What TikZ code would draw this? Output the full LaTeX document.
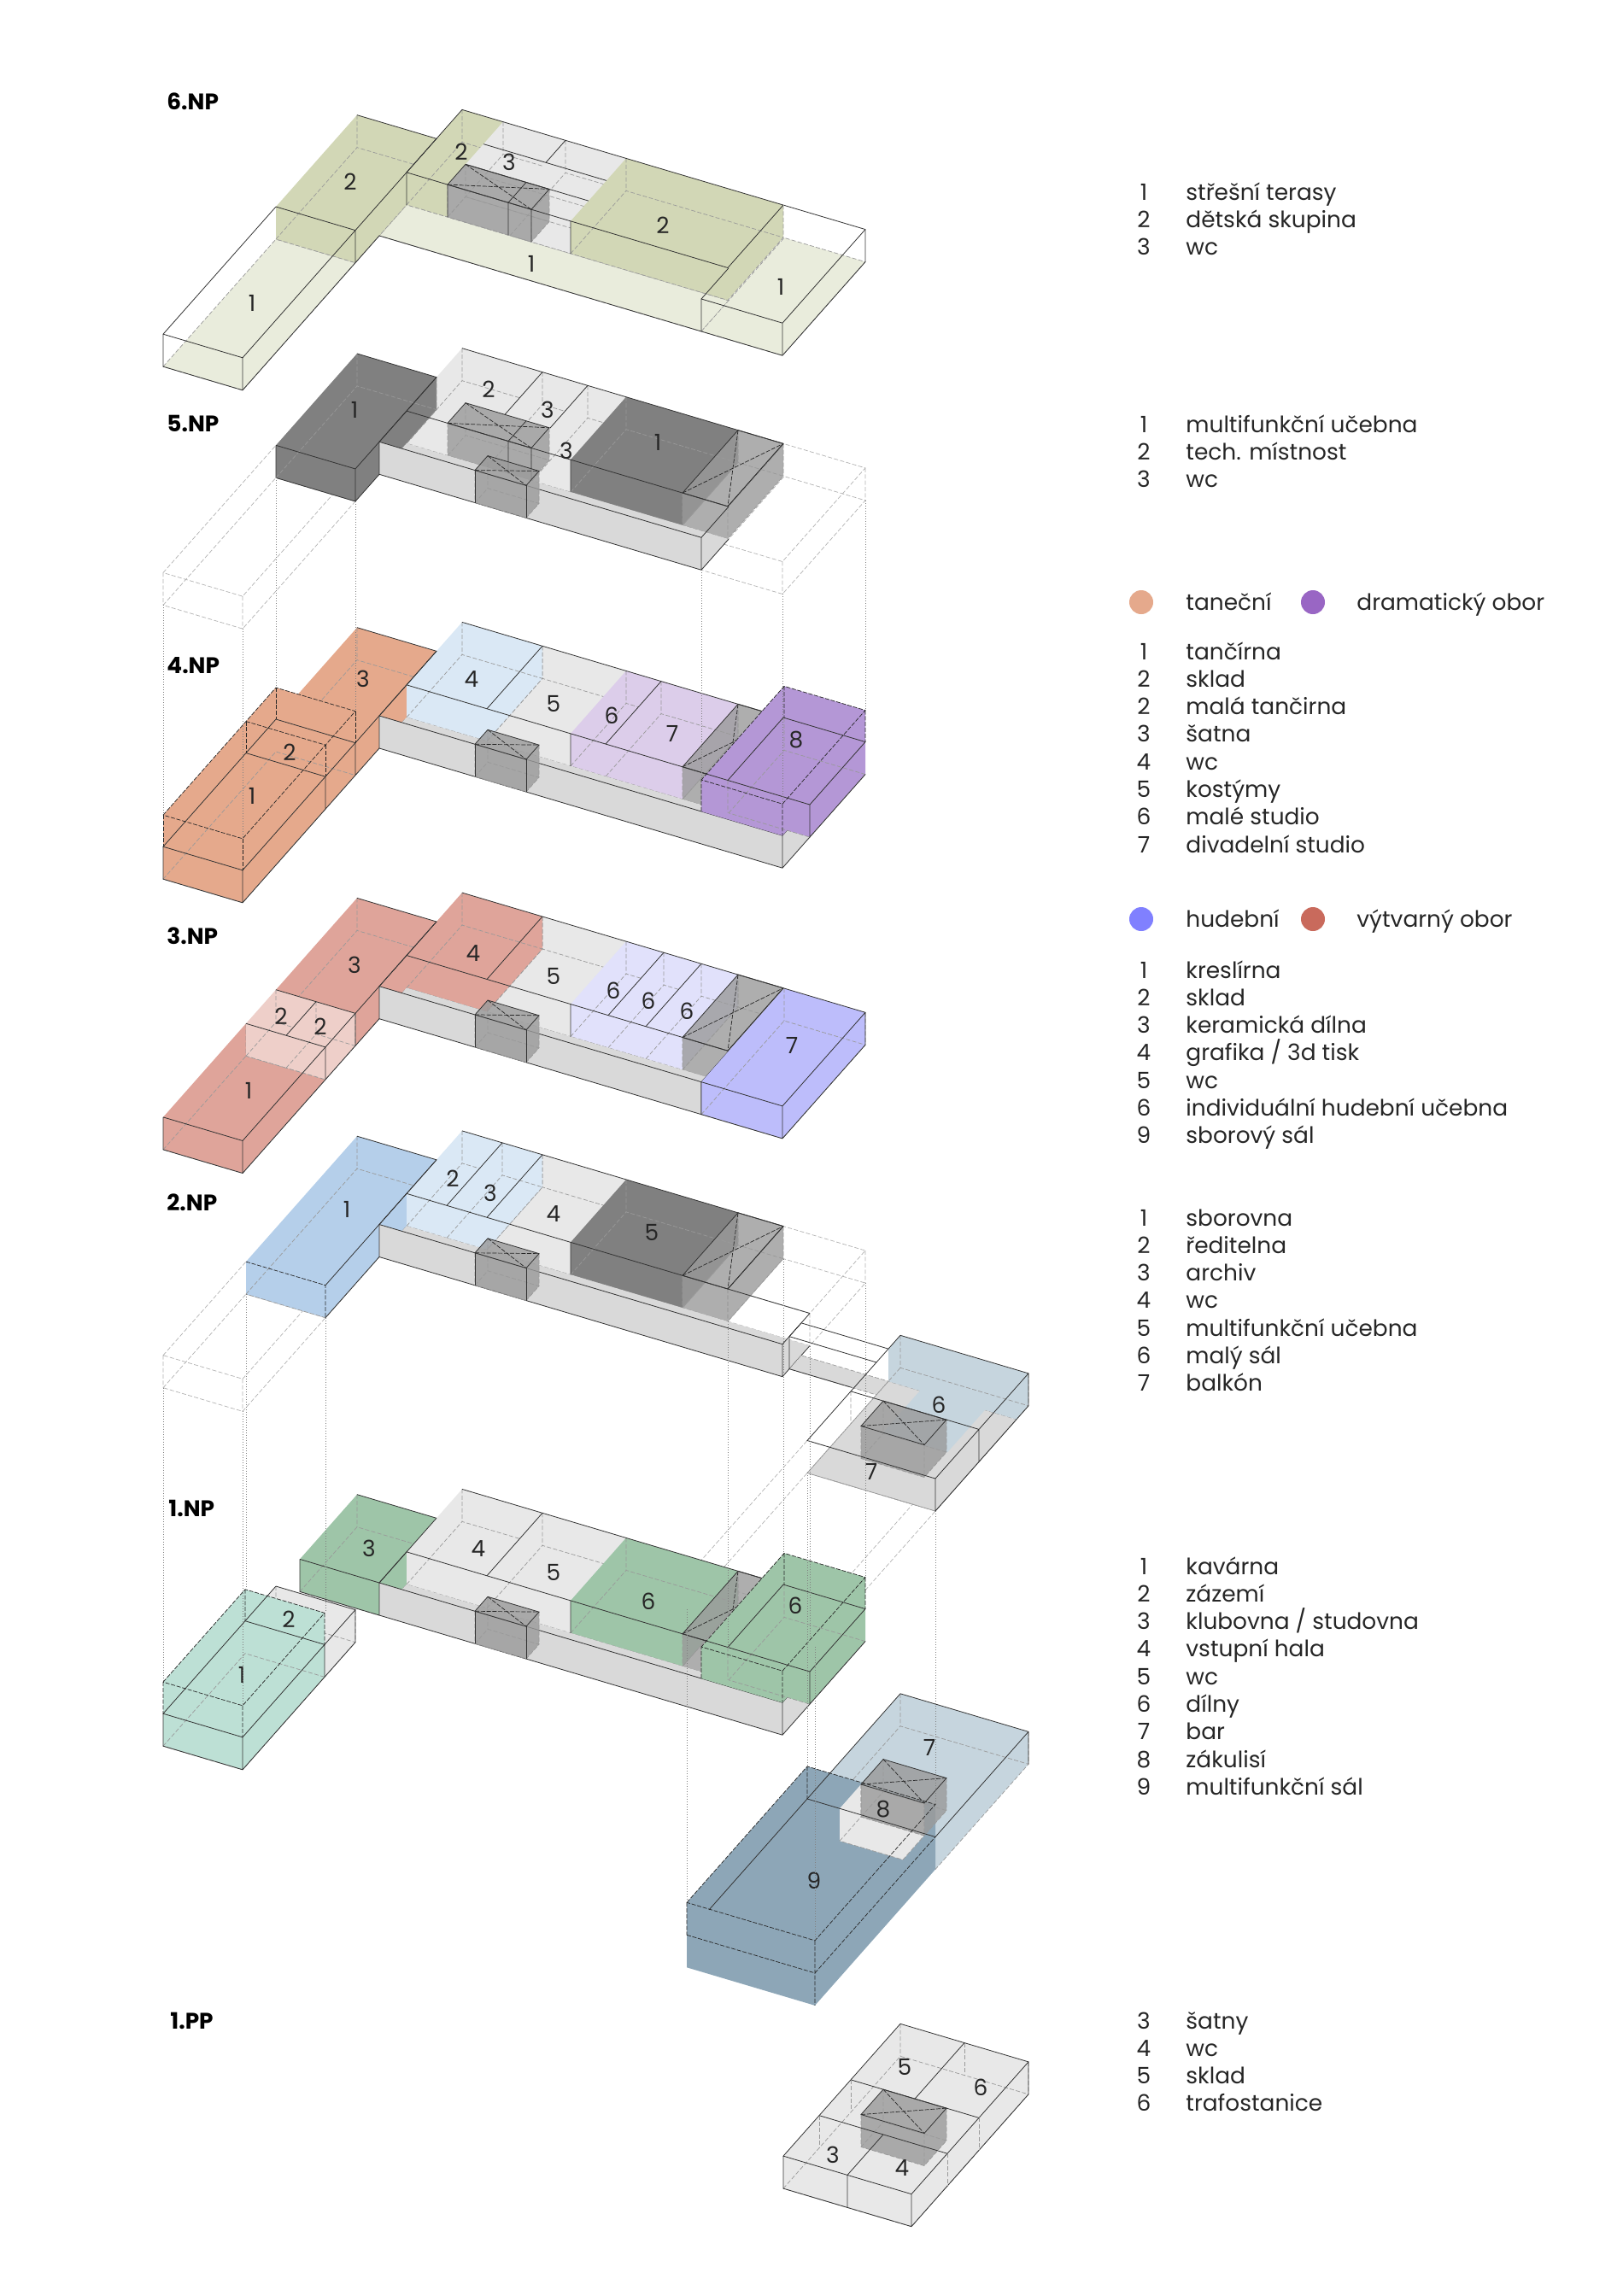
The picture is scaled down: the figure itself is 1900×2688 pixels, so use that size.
\documentclass[tikz,border=0pt]{standalone}
\usepackage{fontspec}
\setmainfont{Poppins}
\definecolor{olivepale}{HTML}{E9ECDC}
\definecolor{olive}{HTML}{D2D7B6}
\definecolor{lightroom}{HTML}{E8E8E8}
\definecolor{corridor}{HTML}{D9D9D9}
\definecolor{coregray}{HTML}{9A9A9A}
\definecolor{darkroom}{HTML}{808080}
\definecolor{orangeroom}{HTML}{E5A98C}
\definecolor{icy}{HTML}{DAE8F5}
\definecolor{lilac}{HTML}{DCCDEA}
\definecolor{purpleroom}{HTML}{B497D6}
\definecolor{pinkroom}{HTML}{DFA49A}
\definecolor{palepink}{HTML}{EECFC9}
\definecolor{lavender}{HTML}{E1E1FB}
\definecolor{violetroom}{HTML}{BDBDFB}
\definecolor{blueroom}{HTML}{B5CFEA}
\definecolor{greenroom}{HTML}{9EC5A8}
\definecolor{tealroom}{HTML}{BDE0D5}
\definecolor{steel}{HTML}{8DA6B7}
\definecolor{palesteel}{HTML}{C6D5DE}
\definecolor{dotorange}{HTML}{E5A98C}
\definecolor{dotpurple}{HTML}{9966C4}
\definecolor{dotblue}{HTML}{8080FF}
\definecolor{dotred}{HTML}{C96A5C}
\tikzset{
  plan/.style={x={(.5pt,-.1485pt)},y={(.5pt,.565pt)},z={(0pt,-.5pt)},shift={(222pt,{-#1*.5pt})}},
  lid/.style={draw=black!80,line width=.4pt},
  hid/.style={draw=black!40,line width=.35pt,dash pattern=on 2.5pt off 1.2pt},
  updash/.style={draw=black!85,line width=.35pt,dash pattern=on 2.5pt off .9pt},
  ghost/.style={draw=black!30,line width=.35pt,dash pattern=on 2.5pt off 1.2pt},
  drop/.style={draw=black!50,line width=.3pt,dash pattern=on .5pt off 1pt},
  num/.style={font=\fontsize{13.2}{13}\selectfont,text=black!85,inner sep=0pt},
  title/.style={font=\fontsize{13.2}{13}\selectfont\bfseries,anchor=west,inner sep=0pt},
  legnum/.style={font=\fontsize{13.2}{13}\selectfont,text=black!85,anchor=base,inner sep=0pt},
  legtxt/.style={font=\fontsize{13.2}{13}\selectfont,text=black!85,anchor=base west,inner sep=0pt},
  legdot/.style={circle,minimum size=14pt,inner sep=0pt}
}
% a room as a see-through box
\newcommand{\roombox}[5]{%
  \fill[#5] (#1,#3,0) -- (#1,#4,0) -- (#2,#4,0) -- (#2,#4,38) -- (#2,#3,38) -- (#1,#3,38) -- cycle;
  \draw[hid] (#1,#3,38) -- (#1,#4,38) -- (#2,#4,38) -- (#2,#3,38) -- cycle (#1,#4,0) -- (#1,#4,38) (#2,#4,0) -- (#2,#4,38);}
% double height room
\newcommand{\roomtall}[5]{%
  \fill[#5] (#1,#3,-37) -- (#1,#4,-37) -- (#2,#4,-37) -- (#2,#4,38) -- (#2,#3,38) -- (#1,#3,38) -- cycle;
  \draw[hid] (#1,#3,38) -- (#1,#4,38) -- (#2,#4,38) -- (#2,#3,38) -- cycle;}
% floor only
\newcommand{\roomflat}[5]{%
  \fill[#5] (#1,#3,38) -- (#1,#4,38) -- (#2,#4,38) -- (#2,#3,38) -- cycle;
  \draw[hid] (#1,#3,38) -- (#1,#4,38) -- (#2,#4,38) -- (#2,#3,38) -- cycle;}
% stairs, lifts
\newcommand{\roomcore}[4]{%
  \fill[coregray,fill opacity=.8] (#1,#3,0) -- (#1,#4,0) -- (#2,#4,0) -- (#2,#4,38) -- (#2,#3,38) -- (#1,#3,38) -- cycle;
  \draw[hid] (#1,#3,38) -- (#1,#4,38) -- (#2,#4,38) -- (#2,#3,38) -- cycle (#1,#4,0) -- (#1,#4,38) (#2,#4,0) -- (#2,#4,38) (#1,#3,0) -- (#1,#3,38) (#2,#3,0) -- (#2,#3,38);
  \draw[updash] (#1,#3,0) -- (#2,#4,0) (#1,#4,0) -- (#2,#3,0);
  \draw[lid] (#1,#3,0) -- (#1,#4,0) -- (#2,#4,0) -- (#2,#3,0) -- cycle;}
\newcommand{\corridorbar}[1]{%
  \fill[corridor] (0,0,38) -- (0,32,38) -- (#1,32,38) -- (#1,0,38) -- cycle;
  \fill[corridor] (0,0,0) -- (#1,0,0) -- (#1,0,38) -- (0,0,38) -- cycle;
  \draw[lid] (0,32,0) -- (0,0,0) -- (#1,0,0) -- (#1,32,0) (0,0,0) -- (0,0,38) -- (#1,0,38) -- (#1,32,38) (#1,0,0) -- (#1,0,38);}
\newcommand{\barlid}{%
  \draw[lid] (0,32,0) -- (376,32,0) (0,32,0) -- (0,67,0) (0,97,0) -- (376,97,0);}
\newcommand{\liftcore}{%
  \roomcore{112}{172}{0}{15}
  \draw[lid] (112,0,0) -- (112,0,38) (172,0,0) -- (172,0,38);}
% the tall end of the bar
\newcommand{\studiotall}[1]{%
  \fill[#1] (377,32,0) -- (377,97,0) -- (472,97,0) -- (472,97,38) -- (472,32,38) -- (377,32,38) -- cycle;
  \fill[#1] (377,0,0) -- (377,0,-37) -- (377,97,-37) -- (472,97,-37) -- (472,97,0) -- (472,0,0) -- cycle;
  \draw[hid] (377,32,38) -- (377,97,38) -- (472,97,38) -- (472,32,38) -- cycle (376,32,0) -- (376,32,38) (377,97,0) -- (377,97,38);
  \draw[lid] (347,32,0) -- (472,32,0) -- (472,32,38) -- (472,97,38) (472,32,0) -- (472,97,0) -- (376,97,0) -- (376,32,0);
  \draw[updash] (377,0,0) -- (377,0,-37) -- (472,0,-37) -- (472,0,0) (472,0,-37) -- (472,97,-37) -- (377,97,-37) -- (377,0,-37) (472,97,-37) -- (472,97,0) (377,97,-37) -- (377,97,0);}
% ghost of a box from another floor
\newcommand{\ghostbox}[4]{%
  \draw[ghost] (#1,#3,0) -- (#1,#4,0) -- (#2,#4,0) -- (#2,#3,0) -- cycle (#1,#3,38) -- (#1,#4,38) -- (#2,#4,38) -- (#2,#3,38) -- cycle (#1,#3,0) -- (#1,#3,38) (#2,#3,0) -- (#2,#3,38) (#2,#4,0) -- (#2,#4,38);}
\newcommand{\legendlist}[3]{%
  \foreach \nr/\lab [count=\i from 0] in {#3} {
    \node[legnum] (#1n\i) at (1339,{#2+9+\i*32.3}) {\nr};
    \node[legtxt] (#1t\i) at (1388,{#2+9+\i*32.3}) {\lab};
  }}
\begin{document}
\begin{tikzpicture}[x=.5pt,y=-.5pt]
  \useasboundingbox (0,0) rectangle (1900,2688);
  \fill[white] (0,0) rectangle (1900,2688);

  % 6.NP
  \begin{scope}[plan=238]
    \roomflat{-93}{0}{-160}{-28}{olivepale}
    \roomflat{0}{377}{0}{32}{olivepale}
    \roomflat{377}{472}{0}{97}{olivepale}
    \roombox{-93}{0}{-28}{67}{olive}
    \roombox{0}{48}{32}{97}{olive}
    \roombox{48}{121}{32}{97}{lightroom}
    \roombox{121}{192}{32}{97}{lightroom}
    \draw[hid] (48,74,38) -- (192,74,38) (48,53,38) -- (192,53,38);
    \roombox{192}{376}{32}{97}{olive}
    \roomcore{48}{146}{32}{53}
    \draw[lid] (-93,-28,0) -- (-93,-160,0) -- (-93,-160,38) -- (0,-160,38) -- (0,0,38) -- (377,0,38) -- (472,0,38) -- (472,97,38) -- (472,97,0) -- (377,97,0);
    \draw[lid] (-93,-160,0) -- (0,-160,0) -- (0,-160,38) (0,-160,0) -- (0,67,0) -- (-93,67,0) (-93,-28,0) -- (0,-28,0) -- (0,-28,38);
    \draw[lid] (0,32,0) -- (0,32,38) (0,32,0) -- (376,32,0) (0,32,0) -- (0,97,0) -- (376,97,0) -- (376,32,0);
    \draw[lid] (377,32,0) -- (377,0,0) -- (377,0,38) (377,0,0) -- (472,0,0) -- (472,0,38) (472,0,0) -- (472,97,0);
    \draw[lid] (192,32,0) -- (192,32,38) (48,53,0) -- (192,53,0) (48,74,0) -- (192,74,0) (121,74,0) -- (121,97,0);
    \draw[lid] (48,32,0) -- (48,32,38) (119,53,0) -- (119,32,0) -- (119,32,38) (146,32,0) -- (146,32,38);
  \end{scope}
  \node[title] (t6) at (195,119) {6.NP};
  \node[num] (r6a) at (410,213) {2};
  \node[num] (r6b) at (540,178) {2};
  \node[num] (r6c) at (596,190) {3};
  \node[num] (r6d) at (776,264) {2};
  \node[num] (r6e) at (295,355) {1};
  \node[num] (r6f) at (622,309) {1};
  \node[num] (r6g) at (914,336) {1};

  % 5.NP
  \begin{scope}[plan=517.3]
    \ghostbox{-93}{0}{-160}{-28}
    \ghostbox{377}{472}{0}{97}
    \roombox{0}{94}{32}{97}{lightroom}
    \roombox{94}{147}{32}{97}{lightroom}
    \roombox{147}{192}{32}{97}{lightroom}
    \roombox{-93}{0}{-28}{67}{darkroom}
    \roombox{192}{323}{32}{97}{darkroom}
    \roomcore{323}{376}{32}{97}
    \roomcore{48}{146}{32}{53}
    \corridorbar{377}
    \barlid
    \draw[lid] (-93,-28,0) -- (-93,-28,38) -- (0,-28,38) -- (0,0,38) (-93,-28,0) -- (0,-28,0) -- (0,-28,38) (0,-28,0) -- (0,67,0) -- (-93,67,0);
    \draw[lid] (192,32,0) -- (192,32,38) (94,53,0) -- (94,97,0) (147,53,0) -- (147,97,0) (376,32,0) -- (376,97,0);
    \draw[lid] (119,53,0) -- (119,32,0) -- (119,32,38) (146,32,0) -- (146,32,38);
    \liftcore
  \end{scope}
  \node[title] (t5) at (195,496) {5.NP};
  \node[num] (r5a) at (415,480) {1};
  \node[num] (r5b) at (572,456) {2};
  \node[num] (r5c) at (641,480) {3};
  \node[num] (r5d) at (663,528) {3};
  \node[num] (r5e) at (770,518) {1};

  % 4.NP
  \begin{scope}[plan=838]
    \roombox{-93}{0}{-28}{67}{orangeroom}
    \roomtall{-93}{0}{-160}{-28}{orangeroom}
    \roombox{94}{192}{32}{97}{lightroom}
    \roombox{0}{94}{32}{97}{icy}
    \roombox{192}{233}{32}{97}{lilac}
    \roombox{233}{323}{32}{97}{lilac}
    \roomcore{323}{376}{32}{97}
    \corridorbar{472}
    \barlid
    \studiotall{purpleroom}
    \draw[lid] (-93,-160,0) -- (-93,-28,0) -- (0,-28,0) -- (0,-160,0) -- cycle (-93,-63,0) -- (0,-63,0);
    \draw[lid] (-93,-160,0) -- (-93,-160,38) -- (0,-160,38) -- (0,0,38) (0,-160,0) -- (0,-160,38) (0,-63,0) -- (0,-63,38) (0,-28,0) -- (0,-28,38);
    \draw[lid] (0,-28,0) -- (0,67,0) -- (-93,67,0) (94,32,0) -- (94,97,0) (192,32,0) -- (192,32,38) (233,32,0) -- (233,97,0);
    \draw[updash] (-93,-160,-37) -- (-93,-28,-37) -- (0,-28,-37) -- (0,-160,-37) -- cycle (-93,-63,-37) -- (0,-63,-37);
    \draw[updash] (-93,-160,-37) -- (-93,-160,0) (0,-160,-37) -- (0,-160,0) (-93,-28,-37) -- (-93,-28,0) (0,-28,-37) -- (0,-28,0) (-93,-63,-37) -- (-93,-63,0) (0,-63,-37) -- (0,-63,0);
    \liftcore
  \end{scope}
  \node[title] (t4) at (195,779) {4.NP};
  \node[num] (r4a) at (425,795) {3};
  \node[num] (r4b) at (339,881) {2};
  \node[num] (r4c) at (295,932) {1};
  \node[num] (r4d) at (552,795) {4};
  \node[num] (r4e) at (648,824) {5};
  \node[num] (r4f) at (716,838) {6};
  \node[num] (r4g) at (787,859) {7};
  \node[num] (r4h) at (932,866) {8};

  % 3.NP
  \begin{scope}[plan=1154.7]
    \roombox{-93}{0}{-28}{67}{pinkroom}
    \roombox{-93}{0}{-160}{-63}{pinkroom}
    \roombox{-93}{-46}{-63}{-28}{palepink}
    \roombox{-46}{0}{-63}{-28}{palepink}
    \roombox{94}{192}{32}{97}{lightroom}
    \roombox{0}{94}{32}{97}{pinkroom}
    \roombox{192}{236}{32}{97}{lavender}
    \roombox{236}{280}{32}{97}{lavender}
    \roombox{280}{323}{32}{97}{lavender}
    \roomcore{323}{376}{32}{97}
    \corridorbar{377}
    \roombox{377}{472}{0}{97}{violetroom}
    \barlid
    \draw[lid] (-93,-160,0) -- (-93,-160,38) -- (0,-160,38) -- (0,0,38) (-93,-160,0) -- (0,-160,0) -- (0,-160,38) (0,-160,0) -- (0,67,0) -- (-93,67,0);
    \draw[lid] (-93,-28,0) -- (0,-28,0) -- (0,-28,38) (-93,-63,0) -- (0,-63,0) -- (0,-63,38) (-46,-63,0) -- (-46,-28,0);
    \draw[lid] (94,32,0) -- (94,97,0) (192,32,0) -- (192,32,38) (236,32,0) -- (236,97,0) (280,32,0) -- (280,97,0) (376,32,0) -- (376,97,0);
    \draw[lid] (377,0,0) -- (377,0,38) -- (472,0,38) -- (472,97,38) -- (472,97,0) (377,0,0) -- (472,0,0) -- (472,0,38) (472,0,0) -- (472,97,0) -- (376,97,0);
    \liftcore
  \end{scope}
  \node[title] (t3) at (195,1096) {3.NP};
  \node[num] (r3a) at (415,1130) {3};
  \node[num] (r3b) at (554,1116) {4};
  \node[num] (r3c) at (329,1190) {2};
  \node[num] (r3d) at (375,1202) {2};
  \node[num] (r3e) at (291,1277) {1};
  \node[num] (r3f) at (648,1143) {5};
  \node[num] (r3g) at (718,1160) {6};
  \node[num] (r3h) at (759,1172) {6};
  \node[num] (r3i) at (804,1184) {6};
  \node[num] (r3j) at (927,1224) {7};

  % 2.NP
  \begin{scope}[plan=1433.5]
    \ghostbox{-93}{0}{-160}{-63}
    \ghostbox{376}{472}{32}{97}
    \ghostbox{574}{724}{-214}{-73}
    \roombox{-93}{0}{-63}{67}{blueroom}
    \roombox{94}{192}{32}{97}{lightroom}
    \roombox{0}{47}{32}{97}{icy}
    \roombox{47}{94}{32}{97}{icy}
    \roombox{192}{323}{32}{97}{darkroom}
    \roomcore{323}{376}{32}{97}
    \corridorbar{472}
    \barlid
    \draw[lid] (376,32,0) -- (472,32,0) (0,-63,0) -- (0,67,0) -- (-93,67,0) (0,-63,38) -- (0,0,38) (376,32,0) -- (376,97,0);
    \draw[updash] (-93,-63,0) -- (0,-63,0) -- (0,-63,38);
    \draw[lid] (47,32,0) -- (47,97,0) (94,32,0) -- (94,97,0) (192,32,0) -- (192,32,38);
    \liftcore
    % bridge and hall
    \roomflat{472}{611}{8}{22}{corridor}
    \draw[lid] (472,22,0) -- (574,22,0) (472,8,0) -- (574,8,0) (472,22,0) -- (472,8,0) -- (472,8,38) -- (545,8,38);
    \roomflat{574}{724}{-73}{22}{corridor}
    \fill[palesteel] (574,22,0) -- (574,36,0) -- (724,36,0) -- (724,36,38) -- (724,22,38) -- (687,22,38) -- (687,-22,38) -- (611,-22,38) -- (611,22,38) -- (574,22,38) -- cycle;
    \draw[hid] (574,36,0) -- (574,36,38) -- (724,36,38) (724,36,0) -- (724,36,38) -- (724,-73,38) -- (574,-73,38) -- (574,36,38) (574,-22,0) -- (574,-22,38);
    \roomcore{612}{686}{-48}{-22}
    \draw[lid] (574,-73,0) -- (574,36,0) -- (724,36,0) -- (724,-73,0) -- cycle (574,-22,0) -- (724,-22,0) (724,36,0) -- (724,36,38) -- (724,-73,38) -- (724,-73,0) (724,-22,0) -- (724,-22,38);
  \end{scope}
  \node[title] (t2) at (195,1408) {2.NP};
  \node[num] (r2a) at (406,1416) {1};
  \node[num] (r2b) at (530,1380) {2};
  \node[num] (r2c) at (574,1397) {3};
  \node[num] (r2d) at (648,1421) {4};
  \node[num] (r2e) at (763,1443) {5};
  \node[num] (r2f) at (1099,1645) {6};
  \node[num] (r2g) at (1020,1723) {7};

  % 1.NP
  \begin{scope}[plan=1853]
    \roombox{-93}{0}{0}{67}{greenroom}
    \roombox{-93}{0}{-64}{-28}{lightroom}
    \roomtall{-93}{0}{-160}{-64}{tealroom}
    \roombox{0}{94}{32}{97}{lightroom}
    \roombox{94}{192}{32}{97}{lightroom}
    \roombox{192}{323}{32}{97}{greenroom}
    \roomcore{323}{376}{32}{97}
    \corridorbar{472}
    \barlid
    \studiotall{greenroom}
    \draw[lid] (-93,0,0) -- (-93,0,38) -- (0,0,38) (-93,0,0) -- (0,0,0) (-93,67,0) -- (0,67,0);
    \draw[lid] (94,32,0) -- (94,97,0) (192,32,0) -- (192,32,38) (0,32,0) -- (0,0,0);
    \draw[lid] (-93,-28,0) -- (0,-28,0) -- (0,-64,0) (0,-28,0) -- (0,-28,38) -- (0,-64,38) (-93,-64,0) -- (-93,-28,0);
    \draw[lid] (-93,-160,0) -- (-93,-64,0) -- (0,-64,0) -- (0,-160,0) -- cycle (-93,-160,0) -- (-93,-160,38) -- (0,-160,38) -- (0,-64,38) (0,-160,0) -- (0,-160,38) (0,-64,0) -- (0,-64,38);
    \draw[updash] (-93,-160,-37) -- (-93,-64,-37) -- (0,-64,-37) -- (0,-160,-37) -- cycle (-93,-160,-37) -- (-93,-160,0) (0,-160,-37) -- (0,-160,0) (-93,-64,-37) -- (-93,-64,0) (0,-64,-37) -- (0,-64,0);
    \liftcore
    % hall below
    \roombox{574}{724}{-73}{36}{palesteel}
    \fill[steel] (574,-214,-38) -- (574,-73,-38) -- (724,-73,-38) -- (724,-73,38) -- (724,-214,38) -- (574,-214,38) -- cycle;
    \roombox{612}{686}{-73}{-48}{lightroom}
    \roomcore{612}{686}{-48}{-22}
    \draw[lid] (574,-73,0) -- (574,36,0) -- (724,36,0) -- (724,36,38) (724,36,0) -- (724,-73,0);
    \draw[lid] (574,-73,0) -- (724,-73,0) (574,-73,0) -- (574,-188,0) (612,-73,0) -- (686,-73,0);
    \draw[updash] (574,-214,-38) -- (574,-73,-38) -- (724,-73,-38) -- (724,-214,-38) -- cycle (574,-214,0) -- (724,-214,0) (724,-214,-38) -- (724,-214,38) (574,-214,-38) -- (574,-214,0) (574,-73,-38) -- (574,-73,0) (724,-214,0) -- (724,-73,0);
  \end{scope}
  \node[title] (t1) at (197,1766) {1.NP};
  \node[num] (r1a) at (432,1813) {3};
  \node[num] (r1b) at (560,1813) {4};
  \node[num] (r1c) at (648,1841) {5};
  \node[num] (r1d) at (759,1875) {6};
  \node[num] (r1e) at (931,1880) {6};
  \node[num] (r1f) at (338,1896) {2};
  \node[num] (r1g) at (283,1961) {1};
  \node[num] (r1h) at (1088,2046) {7};
  \node[num] (r1i) at (1034,2118) {8};
  \node[num] (r1j) at (953,2202) {9};

  % 1.PP
  \begin{scope}[plan=2239.5]
    \roombox{574}{724}{-101}{36}{lightroom}
    \roomcore{612}{686}{-48}{-22}
    \draw[lid] (574,-101,0) -- (574,36,0) -- (724,36,0) -- (724,-101,0) -- cycle (574,-101,0) -- (574,-101,38) -- (724,-101,38) -- (724,36,38) -- (724,36,0) (724,-101,0) -- (724,-101,38);
    \draw[lid] (574,-22,0) -- (724,-22,0) (574,-59,0) -- (724,-59,0) (649,-22,0) -- (649,36,0) (649,-101,0) -- (649,-59,0) (649,-101,0) -- (649,-101,38);
    \draw[hid] (574,-22,0) -- (574,-22,38) (574,-59,0) -- (574,-59,38) (724,-22,0) -- (724,-22,38) (724,-59,0) -- (724,-59,38) (649,36,0) -- (649,36,38);
  \end{scope}
  \node[title] (t0) at (199,2366) {1.PP};
  \node[num] (r0a) at (1059,2420) {5};
  \node[num] (r0b) at (1148,2444) {6};
  \node[num] (r0c) at (975,2523) {3};
  \node[num] (r0d) at (1056,2538) {4};

  % drop lines
  \begin{scope}[plan=517.3]
    \foreach \pa/\pb in {-93/-160,0/-160,-93/-28,0/-28,377/0,472/0,472/97}
      \draw[drop] (\pa,\pb,38) -- (\pa,\pb,283.7);
  \end{scope}
  \begin{scope}[plan=1433.5]
    \foreach \pa/\pb/\pz in {-93/-160/382.5,0/-160/382.5,-93/-63/382.5,0/-63/382.5,376/32/419.5,376/97/382.5,472/32/382.5,472/97/382.5,574/-214/381.5,724/-214/381.5,574/-73/381.5,724/-73/381.5}
      \draw[drop] (\pa,\pb,38) -- (\pa,\pb,\pz);
  \end{scope}

  % legend
  \legendlist{a}{225}{1/střešní terasy,2/dětská skupina,3/wc}
  \legendlist{b}{497}{1/multifunkční učebna,2/tech. místnost,3/wc}
  \node[legdot,fill=dotorange] (dota) at (1336,705) {};
  \node[legdot,fill=dotpurple] (dotb) at (1537,705) {};
  \node[legtxt] (hda) at (1388,714) {taneční};
  \node[legtxt] (hdb) at (1588,714) {dramatický obor};
  \legendlist{c}{763}{1/tančírna,2/sklad,2/malá tančirna,3/šatna,4/wc,5/kostýmy,6/malé studio,7/divadelní studio}
  \node[legdot,fill=dotblue] (dotc) at (1336,1076) {};
  \node[legdot,fill=dotred] (dotd) at (1537,1076) {};
  \node[legtxt] (hdc) at (1388,1085) {hudební};
  \node[legtxt] (hdd) at (1588,1085) {výtvarný obor};
  \legendlist{d}{1136}{1/kreslírna,2/sklad,3/keramická dílna,4/{grafika / 3d tisk},5/wc,6/individuální hudební učebna,9/sborový sál}
  \legendlist{e}{1426}{1/sborovna,2/ředitelna,3/archiv,4/wc,5/multifunkční učebna,6/malý sál,7/balkón}
  \legendlist{f}{1834}{1/kavárna,2/zázemí,3/{klubovna / studovna},4/vstupní hala,5/wc,6/dílny,7/bar,8/zákulisí,9/multifunkční sál}
  \legendlist{g}{2366}{3/šatny,4/wc,5/sklad,6/trafostanice}
\end{tikzpicture}
\end{document}
